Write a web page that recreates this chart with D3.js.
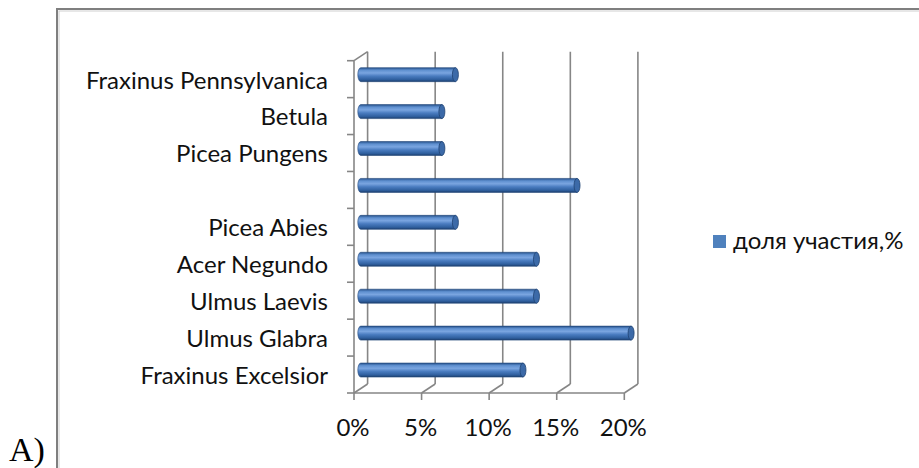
<!DOCTYPE html>
<html>
<head>
<meta charset="utf-8">
<script src="https://cdn.jsdelivr.net/npm/d3@7/dist/d3.min.js"></script>
<style>
  html, body { margin: 0; padding: 0; background: #fff; }
  svg { display: block; }
</style>
</head>
<body>
<svg id="chart" width="919" height="468"></svg>
<script>
// Species, listed from the top row of the chart to the bottom row
const categories = [
  "Fraxinus Pennsylvanica",
  "Betula",
  "Picea Pungens",
  "",
  "Picea Abies",
  "Acer Negundo",
  "Ulmus Laevis",
  "Ulmus Glabra",
  "Fraxinus Excelsior"
];
// Share of each species, %
const shares = [7, 6, 6, 16, 7, 13, 13, 20, 12];
const tickValues = [0, 5, 10, 15, 20];
const seriesName = "доля участия,%";
const panelLabel = "A)";

const svg = d3.select("#chart");
const labelFont = "Lato, 'Open Sans', sans-serif";
const labelSize = 24;
const labelWeight = 400;

// outer frame
svg.append("rect")
  .attr("x", 57).attr("y", 9).attr("width", 900).attr("height", 500)
  .attr("fill", "#fff").attr("stroke", "#7f7f7f").attr("stroke-width", 2);
svg.append("rect")
  .attr("x", 59).attr("y", 11).attr("width", 900).attr("height", 500)
  .attr("fill", "none").attr("stroke", "#d0d0d0").attr("stroke-width", 1);

// panel label
svg.append("text")
  .attr("x", 9).attr("y", 461)
  .attr("font-family", "'Liberation Serif', 'Times New Roman', serif")
  .attr("font-size", 34).attr("fill", "#000")
  .text(panelLabel);

// scales (front plane); the 3-D depth offset shifts things back
const x = d3.scaleLinear().domain([0, 20]).range([354, 624.3]);
const y = d3.scaleBand().domain(categories).range([60.7, 393]).paddingInner(0).paddingOuter(0);
const depthX = 13.6, depthY = -9;
const gridColor = "#868686";
const yFront0 = 393, yTop = 60.7;

const grid = svg.append("g").attr("stroke", gridColor).attr("stroke-width", 1.6).attr("fill", "none");

// back wall gridlines
grid.selectAll("line.back").data(tickValues).join("line")
  .attr("class", "back")
  .attr("x1", d => x(d) + depthX).attr("x2", d => x(d) + depthX)
  .attr("y1", yTop + depthY).attr("y2", yFront0 + depthY);

// floor lines from the front axis to the back wall
grid.selectAll("line.floor").data(tickValues).join("line")
  .attr("class", "floor")
  .attr("x1", d => x(d)).attr("x2", d => x(d) + depthX)
  .attr("y1", yFront0).attr("y2", yFront0 + depthY);

// top edge of the side wall
grid.append("line")
  .attr("x1", x(0)).attr("y1", yTop)
  .attr("x2", x(0) + depthX).attr("y2", yTop + depthY);

// front category axis with ticks
grid.append("line")
  .attr("x1", x(0)).attr("x2", x(0)).attr("y1", yTop).attr("y2", yFront0);
const boundaries = categories.map(c => y(c)).concat([yFront0]);
grid.selectAll("line.ytick").data(boundaries).join("line")
  .attr("class", "ytick")
  .attr("x1", x(0) - 7).attr("x2", x(0))
  .attr("y1", d => d).attr("y2", d => d);

// front value axis with ticks
grid.append("line")
  .attr("x1", x(0)).attr("x2", x(20)).attr("y1", yFront0).attr("y2", yFront0);
grid.selectAll("line.xtick").data(tickValues).join("line")
  .attr("class", "xtick")
  .attr("x1", d => x(d)).attr("x2", d => x(d))
  .attr("y1", yFront0).attr("y2", yFront0 + 7);

// value tick labels
svg.append("g").selectAll("text").data(tickValues).join("text")
  .attr("x", d => x(d) - 1).attr("y", 436)
  .attr("text-anchor", "middle")
  .attr("font-family", labelFont).attr("font-size", labelSize)
  .attr("font-weight", labelWeight).attr("fill", "#111")
  .text(d => d + "%");

// category labels
svg.append("g").selectAll("text").data(categories).join("text")
  .attr("x", 328).attr("y", d => y(d) + y.bandwidth() / 2 + 1)
  .attr("dy", "0.35em")
  .attr("text-anchor", "end")
  .attr("font-family", labelFont).attr("font-size", labelSize)
  .attr("font-weight", labelWeight).attr("fill", "#111")
  .text(d => d);

// cylinder shading
const defs = svg.append("defs");
const grad = defs.append("linearGradient").attr("id", "cyl")
  .attr("x1", 0).attr("y1", 0).attr("x2", 0).attr("y2", 1);
[[0, "#25508a"], [0.18, "#5f90d0"], [0.38, "#7aa5e0"], [0.6, "#4a7cc0"], [0.85, "#2f5f9e"], [1, "#1d3f6e"]]
  .forEach(([o, c]) => grad.append("stop").attr("offset", o).attr("stop-color", c));

const barH = 14;
const rows = categories.map((c, i) => ({ c, v: shares[i] }));
const bars = svg.append("g").selectAll("g").data(rows).join("g");
const cy = d => y(d.c) + y.bandwidth() / 2 + depthY / 2;
const x0 = x(0) + depthX / 2;
const capR = 3;

// body with rounded start
bars.append("path")
  .attr("d", d => {
    const xe = x(d.v) + depthX / 2;
    const t = cy(d) - barH / 2, b = cy(d) + barH / 2;
    return `M${xe},${t} L${x0},${t} A${capR},${barH / 2} 0 0 0 ${x0},${b} L${xe},${b} Z`;
  })
  .attr("fill", "url(#cyl)")
  .attr("stroke", "#24487a").attr("stroke-width", 0.6);

// end cap
bars.append("ellipse")
  .attr("cx", d => x(d.v) + depthX / 2)
  .attr("cy", d => cy(d))
  .attr("rx", capR).attr("ry", barH / 2)
  .attr("fill", "#3c6aa8").attr("stroke", "#1f4272").attr("stroke-width", 0.8);

// legend
const legend = svg.append("g");
legend.append("rect")
  .attr("x", 713).attr("y", 235).attr("width", 13).attr("height", 13)
  .attr("fill", "#4f81bd");
legend.append("text")
  .attr("x", 733).attr("y", 241).attr("dy", "0.35em")
  .attr("font-family", labelFont).attr("font-size", labelSize)
  .attr("font-weight", labelWeight).attr("fill", "#111")
  .text(seriesName);
</script>
</body>
</html>
